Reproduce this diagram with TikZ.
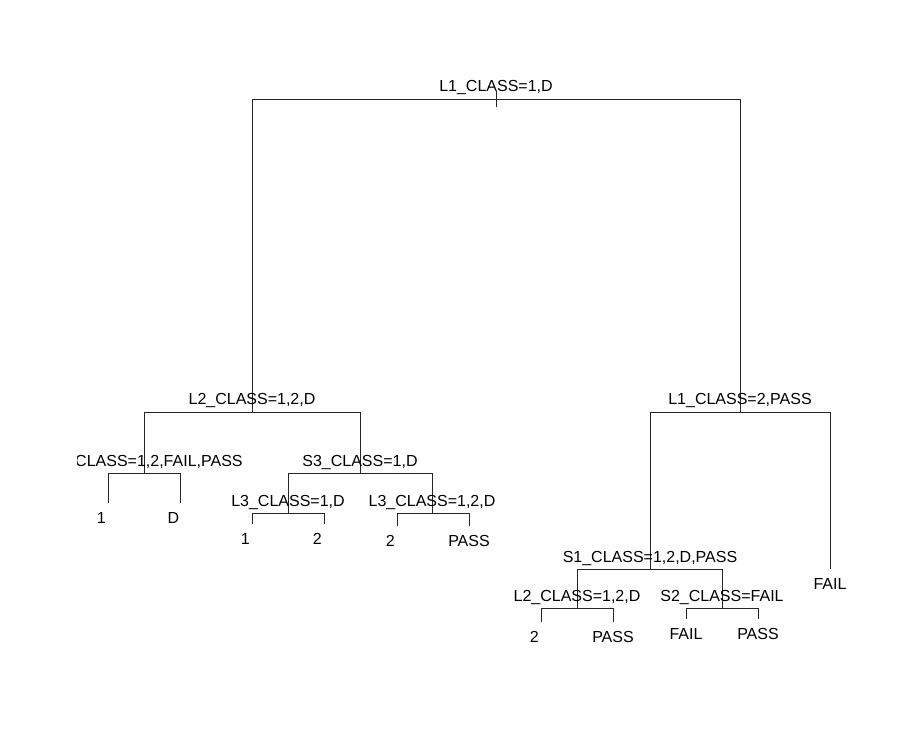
\documentclass[tikz,border=0pt]{standalone}
\usepackage{fontspec}
\setmainfont{Liberation Sans}
\begin{document}
\begin{tikzpicture}[x=1pt,y=-1pt, line width=0.8pt,
  txt/.style={anchor=base, inner sep=0pt, font=\fontsize{16}{19}\selectfont},
  split/.style={txt},
  leaf/.style={txt},
  edge/.style={draw=black!85}]
\useasboundingbox (0,0) rectangle (900,743);
% node positions
\coordinate (n1) at (496,99);
\coordinate (n2) at (252,412);
\coordinate (n3) at (740,412);
\coordinate (n4) at (144,473);
\coordinate (n5) at (360,473);
\coordinate (n10) at (288,513);
\coordinate (n11) at (432,513);
\coordinate (n6) at (650,569);
\coordinate (n7) at (830,569);
\coordinate (n12) at (577,608);
\coordinate (n13) at (722,608);
% leaves
\coordinate (l8) at (108,503);
\coordinate (l9) at (180,503);
\coordinate (l20) at (252,524);
\coordinate (l21) at (324,524);
\coordinate (l22) at (397,526);
\coordinate (l23) at (469,526);
\coordinate (l24) at (541,622);
\coordinate (l25) at (613,622);
\coordinate (l26) at (686,619);
\coordinate (l27) at (758,619);
\coordinate (t1) at (496,91);
\coordinate (t2) at (496,107);
% branches
\draw[edge] (t1) -- (t2);
\draw[edge] (n1) -| (n2);
\draw[edge] (n1) -| (n3);
\draw[edge] (n2) -| (n4);
\draw[edge] (n2) -| (n5);
\draw[edge] (n4) -| (l8);
\draw[edge] (n4) -| (l9);
\draw[edge] (n5) -| (n10);
\draw[edge] (n5) -| (n11);
\draw[edge] (n10) -| (l20);
\draw[edge] (n10) -| (l21);
\draw[edge] (n11) -| (l22);
\draw[edge] (n11) -| (l23);
\draw[edge] (n3) -| (n6);
\draw[edge] (n3) -| (n7);
\draw[edge] (n6) -| (n12);
\draw[edge] (n6) -| (n13);
\draw[edge] (n12) -| (l24);
\draw[edge] (n12) -| (l25);
\draw[edge] (n13) -| (l26);
\draw[edge] (n13) -| (l27);
% split labels
\node[split] (s1) at (496,92) {L1\_CLASS=1,D};
\node[split] (s2) at (252,405) {L2\_CLASS=1,2,D};
\node[split] (s3) at (740,405) {L1\_CLASS=2,PASS};
\begin{scope}
\clip (77,0) rectangle (900,743);
\node[split, anchor=base east] (s4) at (243,466) {CLASS=1,2,FAIL,PASS};
\end{scope}
\node[split] (s5) at (360,466) {S3\_CLASS=1,D};
\node[split] (s10) at (288,506) {L3\_CLASS=1,D};
\node[split] (s11) at (432,506) {L3\_CLASS=1,2,D};
\node[split] (s6) at (650,562) {S1\_CLASS=1,2,D,PASS};
\node[split] (s12) at (577,601) {L2\_CLASS=1,2,D};
\node[split] (s13) at (722,601) {S2\_CLASS=FAIL};
% leaf labels
\node[leaf] (f8) at (108,523.5) {1\hspace*{0.834em}};
\node[leaf] (f9) at (180,523.5) {D\hspace*{0.834em}};
\node[leaf] (f20) at (252,544.5) {1\hspace*{0.834em}};
\node[leaf] (f21) at (324,544.5) {2\hspace*{0.834em}};
\node[leaf] (f22) at (397,546.5) {2\hspace*{0.834em}};
\node[leaf] (f23) at (469,546.5) {PASS};
\node[leaf] (f7) at (830,589) {FAIL};
\node[leaf] (f24) at (541,642.5) {2\hspace*{0.834em}};
\node[leaf] (f25) at (613,642.5) {PASS};
\node[leaf] (f26) at (686,639.5) {FAIL};
\node[leaf] (f27) at (758,639.5) {PASS};
\end{tikzpicture}
\end{document}
